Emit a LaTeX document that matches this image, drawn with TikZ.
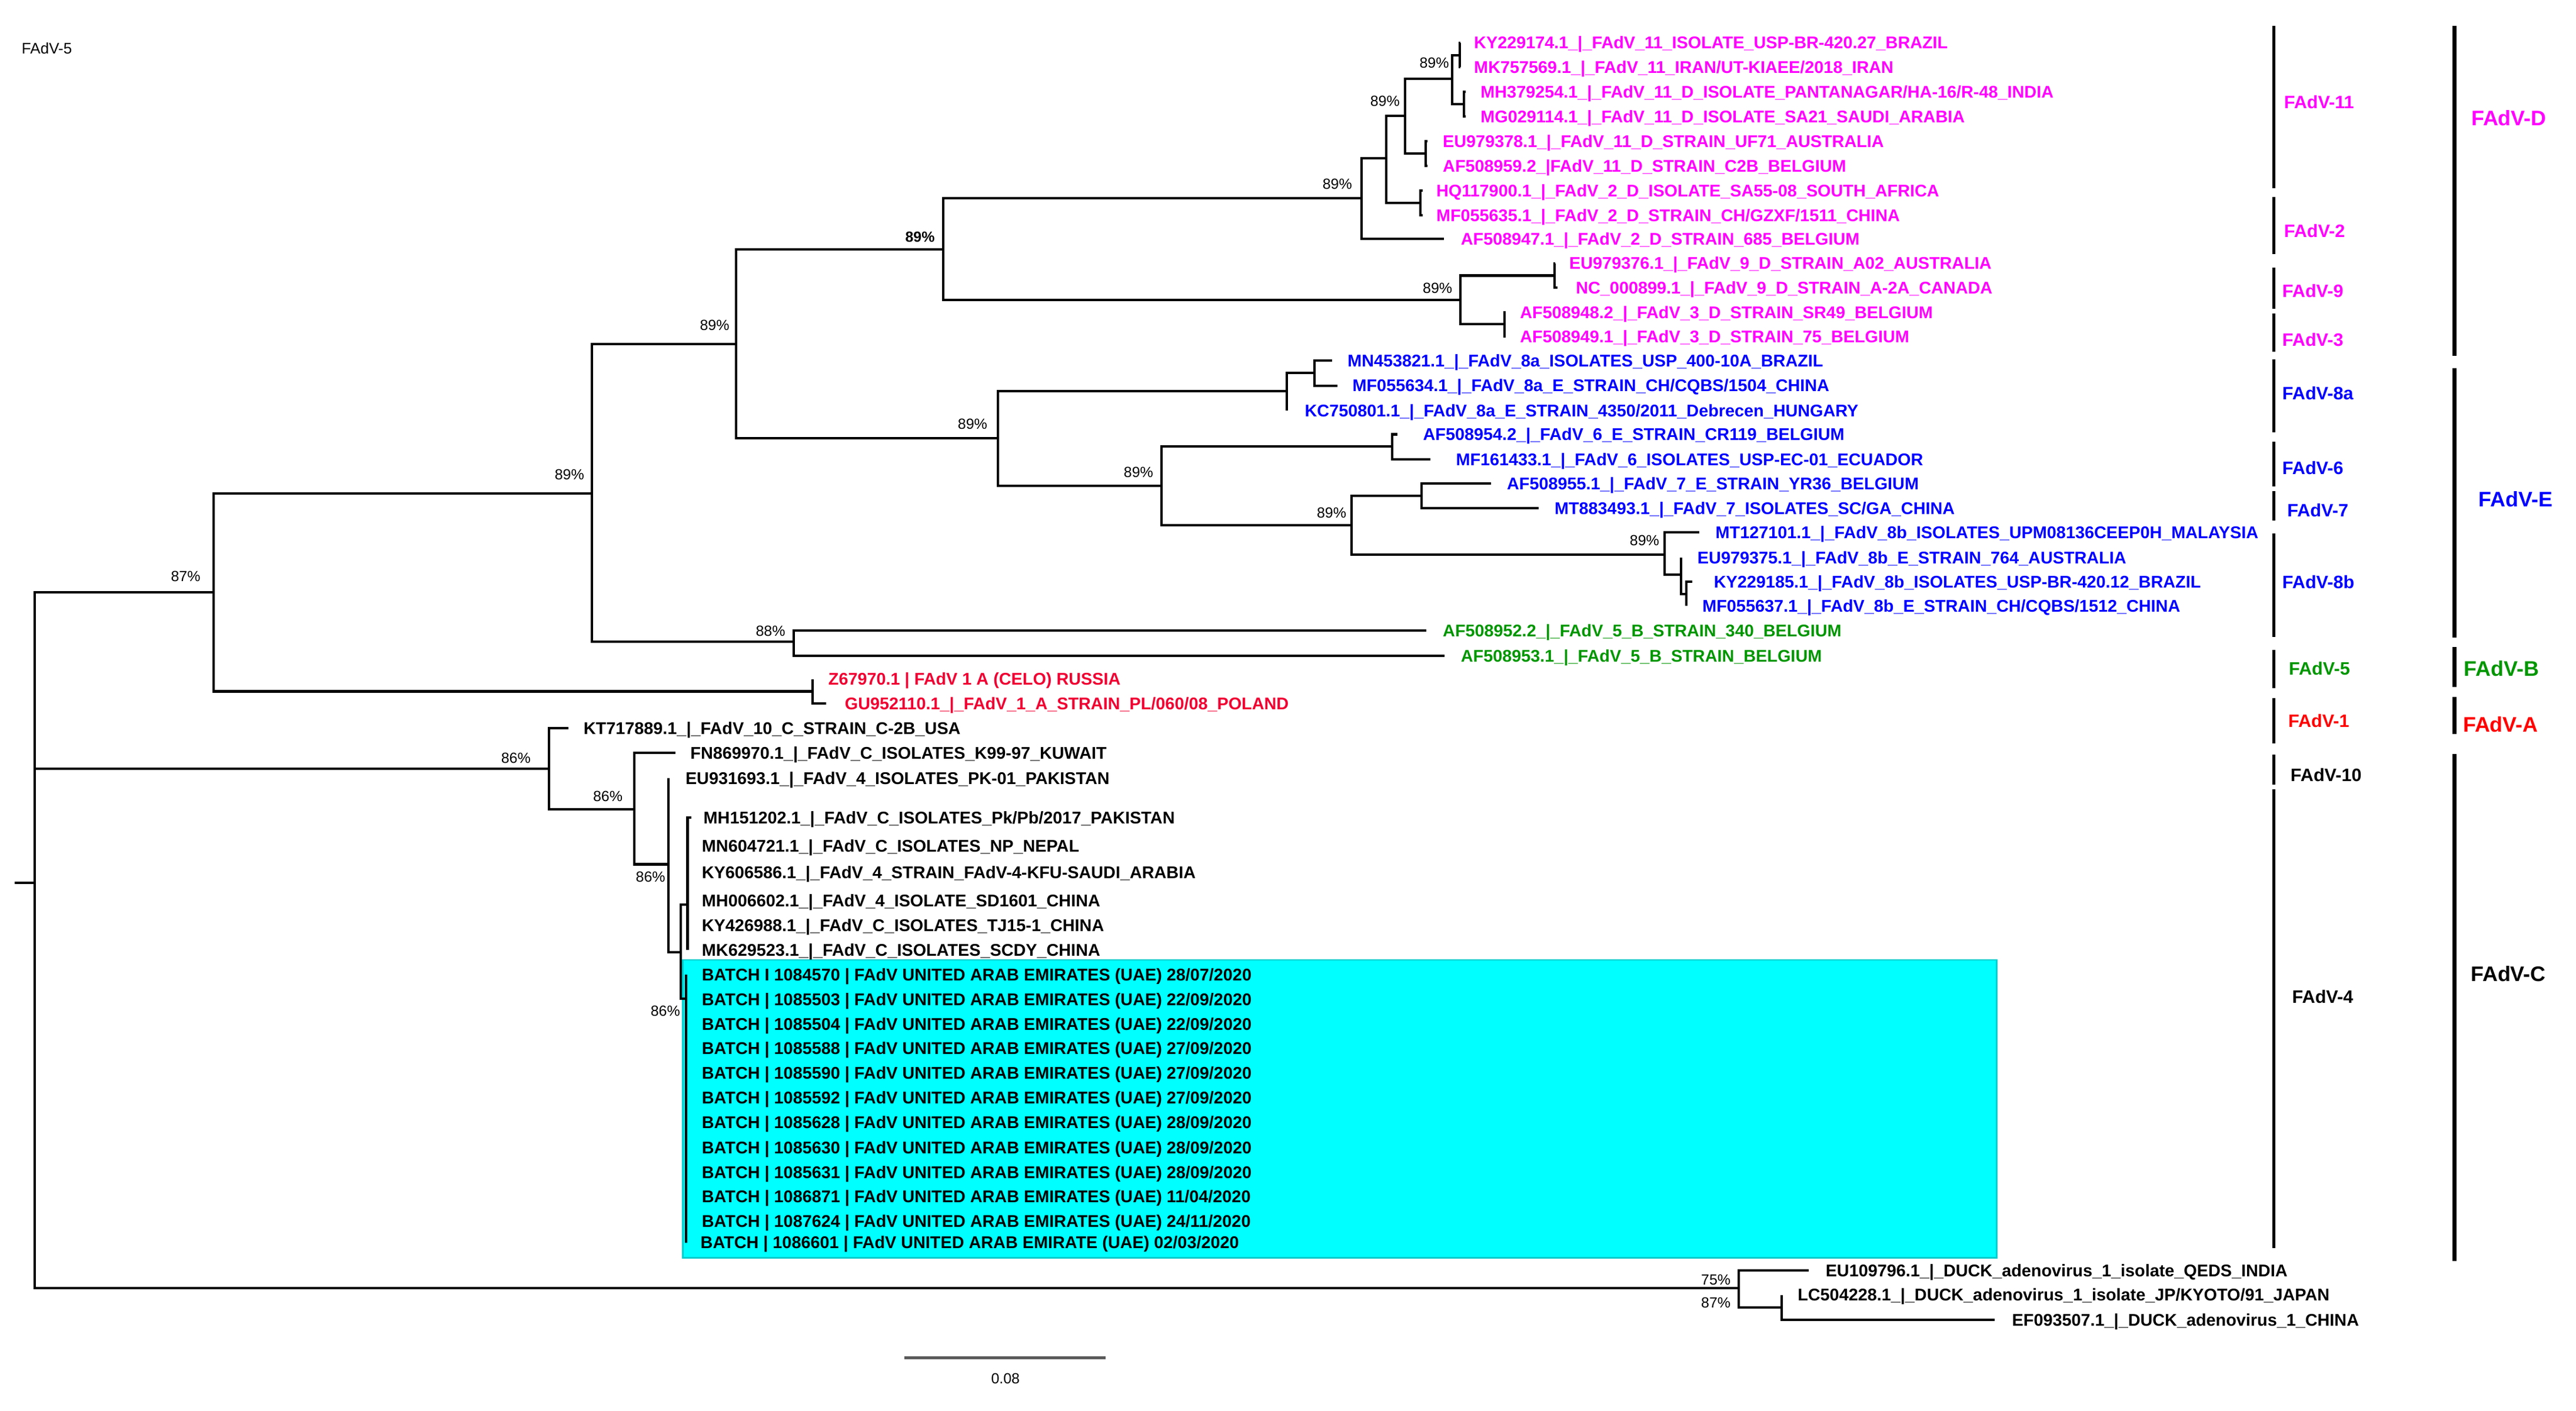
\documentclass[tikz,border=0pt]{standalone}
\usepackage{fontspec}
\setmainfont{Liberation Sans}
\newcommand\tipf{\fontsize{8.2pt}{9pt}\selectfont\bfseries}
\newcommand\sidef{\fontsize{8.7pt}{10pt}\selectfont\bfseries}
\newcommand\cladef{\fontsize{10.2pt}{12pt}\selectfont\bfseries}
\newcommand\bootf{\fontsize{7.1pt}{8pt}\selectfont}
\newcommand\smallf{\fontsize{7.4pt}{8pt}\selectfont}
\definecolor{mag}{RGB}{255,0,255}
\definecolor{blu}{RGB}{0,0,255}
\definecolor{grn}{RGB}{0,150,0}
\definecolor{rdt}{RGB}{240,0,50}
\definecolor{rds}{RGB}{255,0,0}
\definecolor{cy}{RGB}{0,255,255}
\definecolor{cyedge}{RGB}{0,205,205}
\definecolor{sbgray}{RGB}{90,90,90}
\newcommand\mytip[6]{\coordinate (t#1) at (#2,#3); \node[tip,text=#5] (l#1) at (#4,#3) {#6};}
\newcommand\mybs[4][]{\node[boot,#1] (#2) at (#3) {#4\%};}
\begin{document}
\begin{tikzpicture}[x=0.02792cm,y=-0.02792cm,
  br/.style={line width=1.15pt},
  tip/.style={anchor=west,inner sep=0pt,font=\tipf,text height=5.9pt,text depth=0pt},
  boot/.style={inner sep=0pt,font=\bootf,text height=5.1pt,text depth=0pt},
  side/.style={anchor=west,inner sep=0pt,font=\sidef,text height=6.2pt,text depth=0pt},
  clade/.style={anchor=west,inner sep=0pt,font=\cladef,text height=7.3pt,text depth=0pt},
  bar/.style={line width=1.4pt},
  obar/.style={line width=2.1pt}]
\useasboundingbox (0,0) rectangle (1568,859);

% highlighted box
\path[fill=cy,draw=cyedge,line width=0.8pt] (415.5,584.5) rectangle (1215.5,765.8);

% title
\node[anchor=west,inner sep=0pt,font=\smallf,text height=5.3pt,text depth=0pt] (title) at (13,29.4) {FAdV-5};

% ---------- tips ----------
\mytip{1}{889}{26}{897}{mag}{KY229174.1\_|\_FAdV\_11\_ISOLATE\_USP-BR-420.27\_BRAZIL}
\mytip{2}{889}{41}{897}{mag}{MK757569.1\_|\_FAdV\_11\_IRAN/UT-KIAEE/2018\_IRAN}
\mytip{3}{892}{56}{901}{mag}{MH379254.1\_|\_FAdV\_11\_D\_ISOLATE\_PANTANAGAR/HA-16/R-48\_INDIA}
\mytip{4}{892}{71}{901}{mag}{MG029114.1\_|\_FAdV\_11\_D\_ISOLATE\_SA21\_SAUDI\_ARABIA}
\mytip{5}{869}{86}{878}{mag}{EU979378.1\_|\_FAdV\_11\_D\_STRAIN\_UF71\_AUSTRALIA}
\mytip{6}{869}{101}{878}{mag}{AF508959.2\_|FAdV\_11\_D\_STRAIN\_C2B\_BELGIUM}
\mytip{7}{866}{116}{874}{mag}{HQ117900.1\_|\_FAdV\_2\_D\_ISOLATE\_SA55-08\_SOUTH\_AFRICA}
\mytip{8}{866}{131}{874}{mag}{MF055635.1\_|\_FAdV\_2\_D\_STRAIN\_CH/GZXF/1511\_CHINA}
\mytip{9}{879}{145.5}{889}{mag}{AF508947.1\_|\_FAdV\_2\_D\_STRAIN\_685\_BELGIUM}
\mytip{10}{946.5}{160.3}{955}{mag}{EU979376.1\_|\_FAdV\_9\_D\_STRAIN\_A02\_AUSTRALIA}
\mytip{11}{948}{175.3}{959}{mag}{NC\_000899.1\_|\_FAdV\_9\_D\_STRAIN\_A-2A\_CANADA}
\mytip{12}{916.5}{190.1}{925}{mag}{AF508948.2\_|\_FAdV\_3\_D\_STRAIN\_SR49\_BELGIUM}
\mytip{13}{916.5}{204.8}{925}{mag}{AF508949.1\_|\_FAdV\_3\_D\_STRAIN\_75\_BELGIUM}
\mytip{14}{811}{219.5}{820}{blu}{MN453821.1\_|\_FAdV\_8a\_ISOLATES\_USP\_400-10A\_BRAZIL}
\mytip{15}{814}{234.8}{823}{blu}{MF055634.1\_|\_FAdV\_8a\_E\_STRAIN\_CH/CQBS/1504\_CHINA}
\mytip{16}{783.2}{250}{794}{blu}{KC750801.1\_|\_FAdV\_8a\_E\_STRAIN\_4350/2011\_Debrecen\_HUNGARY}
\mytip{17}{850.7}{264.5}{866}{blu}{AF508954.2\_|\_FAdV\_6\_E\_STRAIN\_CR119\_BELGIUM}
\mytip{18}{870.6}{279.8}{886}{blu}{MF161433.1\_|\_FAdV\_6\_ISOLATES\_USP-EC-01\_ECUADOR}
\mytip{19}{907.7}{294.5}{917}{blu}{AF508955.1\_|\_FAdV\_7\_E\_STRAIN\_YR36\_BELGIUM}
\mytip{20}{936.6}{309.6}{946}{blu}{MT883493.1\_|\_FAdV\_7\_ISOLATES\_SC/GA\_CHINA}
\mytip{21}{1034.4}{324}{1044}{blu}{MT127101.1\_|\_FAdV\_8b\_ISOLATES\_UPM08136CEEP0H\_MALAYSIA}
\mytip{22}{1023.3}{339.5}{1033}{blu}{EU979375.1\_|\_FAdV\_8b\_E\_STRAIN\_764\_AUSTRALIA}
\mytip{23}{1030}{354.2}{1043}{blu}{KY229185.1\_|\_FAdV\_8b\_ISOLATES\_USP-BR-420.12\_BRAZIL}
\mytip{24}{1026.5}{369}{1036}{blu}{MF055637.1\_|\_FAdV\_8b\_E\_STRAIN\_CH/CQBS/1512\_CHINA}
\mytip{25}{868.3}{384}{878}{grn}{AF508952.2\_|\_FAdV\_5\_B\_STRAIN\_340\_BELGIUM}
\mytip{26}{879.4}{399.5}{889}{grn}{AF508953.1\_|\_FAdV\_5\_B\_STRAIN\_BELGIUM}
\mytip{27}{494.5}{413.5}{504}{rdt}{Z67970.1 | FAdV 1 A (CELO) RUSSIA}
\mytip{28}{503}{428.5}{514}{rdt}{GU952110.1\_|\_FAdV\_1\_A\_STRAIN\_PL/060/08\_POLAND}
\mytip{29}{346}{443.5}{355}{black}{KT717889.1\_|\_FAdV\_10\_C\_STRAIN\_C-2B\_USA}
\mytip{30}{411}{458.5}{420}{black}{FN869970.1\_|\_FAdV\_C\_ISOLATES\_K99-97\_KUWAIT}
\mytip{31}{407}{474}{417}{black}{EU931693.1\_|\_FAdV\_4\_ISOLATES\_PK-01\_PAKISTAN}
\mytip{32}{421}{497.7}{428}{black}{MH151202.1\_|\_FAdV\_C\_ISOLATES\_Pk/Pb/2017\_PAKISTAN}
\mytip{33}{418.5}{515}{427}{black}{MN604721.1\_|\_FAdV\_C\_ISOLATES\_NP\_NEPAL}
\mytip{34}{418.5}{531.3}{427}{black}{KY606586.1\_|\_FAdV\_4\_STRAIN\_FAdV-4-KFU-SAUDI\_ARABIA}
\mytip{35}{418.5}{548.4}{427}{black}{MH006602.1\_|\_FAdV\_4\_ISOLATE\_SD1601\_CHINA}
\mytip{36}{418.5}{563.4}{427}{black}{KY426988.1\_|\_FAdV\_C\_ISOLATES\_TJ15-1\_CHINA}
\mytip{37}{418.5}{578.5}{427}{black}{MK629523.1\_|\_FAdV\_C\_ISOLATES\_SCDY\_CHINA}
\mytip{38}{417.5}{593.5}{427}{black}{BATCH I 1084570 | FAdV UNITED ARAB EMIRATES (UAE) 28/07/2020}
\mytip{39}{417.5}{608.6}{427}{black}{BATCH | 1085503 | FAdV UNITED ARAB EMIRATES (UAE) 22/09/2020}
\mytip{40}{417.5}{623.6}{427}{black}{BATCH | 1085504 | FAdV UNITED ARAB EMIRATES (UAE) 22/09/2020}
\mytip{41}{417.5}{638.2}{427}{black}{BATCH | 1085588 | FAdV UNITED ARAB EMIRATES (UAE) 27/09/2020}
\mytip{42}{417.5}{653.2}{427}{black}{BATCH | 1085590 | FAdV UNITED ARAB EMIRATES (UAE) 27/09/2020}
\mytip{43}{417.5}{668.3}{427}{black}{BATCH | 1085592 | FAdV UNITED ARAB EMIRATES (UAE) 27/09/2020}
\mytip{44}{417.5}{683.3}{427}{black}{BATCH | 1085628 | FAdV UNITED ARAB EMIRATES (UAE) 28/09/2020}
\mytip{45}{417.5}{698.9}{427}{black}{BATCH | 1085630 | FAdV UNITED ARAB EMIRATES (UAE) 28/09/2020}
\mytip{46}{417.5}{713.9}{427}{black}{BATCH | 1085631 | FAdV UNITED ARAB EMIRATES (UAE) 28/09/2020}
\mytip{47}{417.5}{728.5}{427}{black}{BATCH | 1086871 | FAdV UNITED ARAB EMIRATES (UAE) 11/04/2020}
\mytip{48}{417.5}{743.5}{427}{black}{BATCH | 1087624 | FAdV UNITED ARAB EMIRATES (UAE) 24/11/2020}
\mytip{49}{417.5}{756.6}{426.2}{black}{BATCH | 1086601 | FAdV UNITED ARAB EMIRATE (UAE) 02/03/2020}
\mytip{50}{1101}{773.5}{1111}{black}{EU109796.1\_|\_DUCK\_adenovirus\_1\_isolate\_QEDS\_INDIA}
\mytip{51}{1084.5}{788.5}{1094}{black}{LC504228.1\_|\_DUCK\_adenovirus\_1\_isolate\_JP/KYOTO/91\_JAPAN}
\mytip{52}{1214.3}{803.7}{1224.5}{black}{EF093507.1\_|\_DUCK\_adenovirus\_1\_CHINA}

% ---------- internal nodes ----------
\coordinate (R0) at (9,537.6);
\coordinate (R) at (21,537.6);
\coordinate (N87) at (130,360.7);
\coordinate (N89a) at (360.2,300.6);
\coordinate (N89b) at (448.2,209.5);
\coordinate (N89D) at (574,151.9);
\coordinate (N89c) at (828.6,120.7);
\coordinate (N89d) at (843.8,96.4);
\coordinate (N89e) at (855.4,70.6);
\coordinate (N11a) at (884,47.9);
\coordinate (N11c) at (888.6,33.5);
\coordinate (N11d) at (891,63.5);
\coordinate (N11b) at (867.8,93.5);
\coordinate (Nhq) at (864.6,123.5);
\coordinate (N89g) at (889,182.6);
\coordinate (N9) at (946.3,167.8);
\coordinate (N3) at (915.8,197.5);
\coordinate (N89E) at (607.5,266.8);
\coordinate (N8a) at (783.2,238.2);
\coordinate (Nbr) at (800,227);
\coordinate (N89f) at (707,296);
\coordinate (N6) at (847.3,272);
\coordinate (N89h) at (822.6,319.8);
\coordinate (N7) at (865.2,302);
\coordinate (N89i) at (1013.3,337.6);
\coordinate (N8bA) at (1023.3,350);
\coordinate (N8bB) at (1026.5,361.6);
\coordinate (N88) at (483,390.8);
\coordinate (NA) at (494.5,421);
\coordinate (N86a) at (334,468);
\coordinate (N86b) at (386,492.7);
\coordinate (N86c) at (407,526.3);
\coordinate (NX) at (414.5,580);
\coordinate (NY) at (418.5,551);
\coordinate (NZ) at (417.5,608);
\coordinate (ND) at (1058.4,784.2);
\coordinate (ND2) at (1084.5,796);

% ---------- branches ----------
\draw[br] (R0) -- (R);
\foreach \p/\c in {R/N87,R/N86a,R/ND,
  N87/N89a,N87/NA,
  N89a/N89b,N89a/N88,
  N89b/N89D,N89b/N89E,
  N89D/N89c,N89D/N89g,
  N89c/N89d,N89c/t9,
  N89d/N89e,N89d/Nhq,
  N89e/N11a,N89e/N11b,
  N11a/N11c,N11a/N11d,
  N11c/t1,N11c/t2,N11d/t3,N11d/t4,
  N11b/t5,N11b/t6,Nhq/t7,Nhq/t8,
  N89g/N9,N89g/N3,N9/t10,N9/t11,N3/t12,N3/t13,
  N89E/N8a,N89E/N89f,
  N8a/Nbr,N8a/t16,Nbr/t14,Nbr/t15,
  N89f/N6,N89f/N89h,N6/t17,N6/t18,
  N89h/N7,N89h/N89i,N7/t19,N7/t20,
  N89i/t21,N89i/N8bA,N8bA/t22,N8bA/N8bB,N8bB/t23,N8bB/t24,
  N88/t25,N88/t26,
  NA/t27,NA/t28,
  N86a/t29,N86a/N86b,
  N86b/t30,N86b/N86c,
  N86c/t31,N86c/NX,
  NX/NY,NX/NZ,
  ND/t50,ND/ND2,ND2/t51,ND2/t52}
  {\draw[br] (\p) |- (\c);}
\foreach \c in {32,33,34,35,36,37} {\draw[br] (NY) |- (t\c);}
\foreach \c in {38,39,40,41,42,43,44,45,46,47,48,49} {\draw[br] (NZ) |- (t\c);}

% ---------- bootstrap values ----------
\mybs{b1}{113,351}{87}
\mybs{b2}{346.6,289}{89}
\mybs{b3}{435,198}{89}
\mybs[font=\bootf\bfseries]{b4}{560,144}{89}
\mybs{b5}{592,258}{89}
\mybs{b6}{814,112}{89}
\mybs{b7}{843,61.5}{89}
\mybs{b8}{873,38}{89}
\mybs{b9}{875,175.5}{89}
\mybs{b10}{693,287.6}{89}
\mybs{b11}{810.5,312}{89}
\mybs{b12}{1001,329}{89}
\mybs{b13}{469,384}{88}
\mybs{b14}{314,461.5}{86}
\mybs{b15}{370,484.6}{86}
\mybs{b16}{396,534}{86}
\mybs{b17}{405,615.6}{86}
\mybs{b18}{1044.4,779}{75}
\mybs{b19}{1044.4,793}{87}

% ---------- scale bar ----------
\coordinate (sb1) at (550.5,826.8);
\coordinate (sb2) at (673,826.8);
\draw[line width=1.2pt,sbgray] (sb1) -- (sb2);
\node[boot] (sbl) at (612,839.3) {0.08};

% ---------- genotype bars ----------
\foreach \n/\a/\b in {g11/15.9/114.6, g2/120/154.6, g9/162.8/188, g3/190.8/214,
  g8a/218.7/263.4, g6/268.9/296.3, g7/299/316.8, g8b/325/388, g5/395.7/418.9,
  g1/425/452.6, g10/459.5/477.7, g4/480.5/759.9}
  {\coordinate (\n t) at (1384,\a); \coordinate (\n b) at (1384,\b); \draw[bar] (\n t) -- (\n b);}
\node[side,text=mag] (s11) at (1390,62) {FAdV-11};
\node[side,text=mag] (s2) at (1390,140.6) {FAdV-2};
\node[side,text=mag] (s9) at (1389,177) {FAdV-9};
\node[side,text=mag] (s3) at (1389,207) {FAdV-3};
\node[side,text=blu] (s8a) at (1389,239.6) {FAdV-8a};
\node[side,text=blu] (s6) at (1389,284.8) {FAdV-6};
\node[side,text=blu] (s7) at (1392,310.8) {FAdV-7};
\node[side,text=blu] (s8b) at (1389,354.4) {FAdV-8b};
\node[side,text=grn] (s5) at (1393,407) {FAdV-5};
\node[side,text=rds] (s1) at (1392.6,439) {FAdV-1};
\node[side,text=black] (s10) at (1394,472) {FAdV-10};
\node[side,text=black] (s4) at (1395,606.9) {FAdV-4};

% ---------- species bars ----------
\foreach \n/\a/\b in {cD/15.9/216.8, cE/224.2/388.1, cB/394/418.2, cA/424.4/447, cC/459/767.9}
  {\coordinate (\n t) at (1494,\a); \coordinate (\n b) at (1494,\b); \draw[obar] (\n t) -- (\n b);}
\node[clade,text=mag] (sD) at (1504,72) {FAdV-D};
\node[clade,text=blu] (sE) at (1508.5,304) {FAdV-E};
\node[clade,text=grn] (sB) at (1499.6,407) {FAdV-B};
\node[clade,text=rds] (sA) at (1499,441) {FAdV-A};
\node[clade,text=black] (sC) at (1503.7,593) {FAdV-C};
\end{tikzpicture}
\end{document}
